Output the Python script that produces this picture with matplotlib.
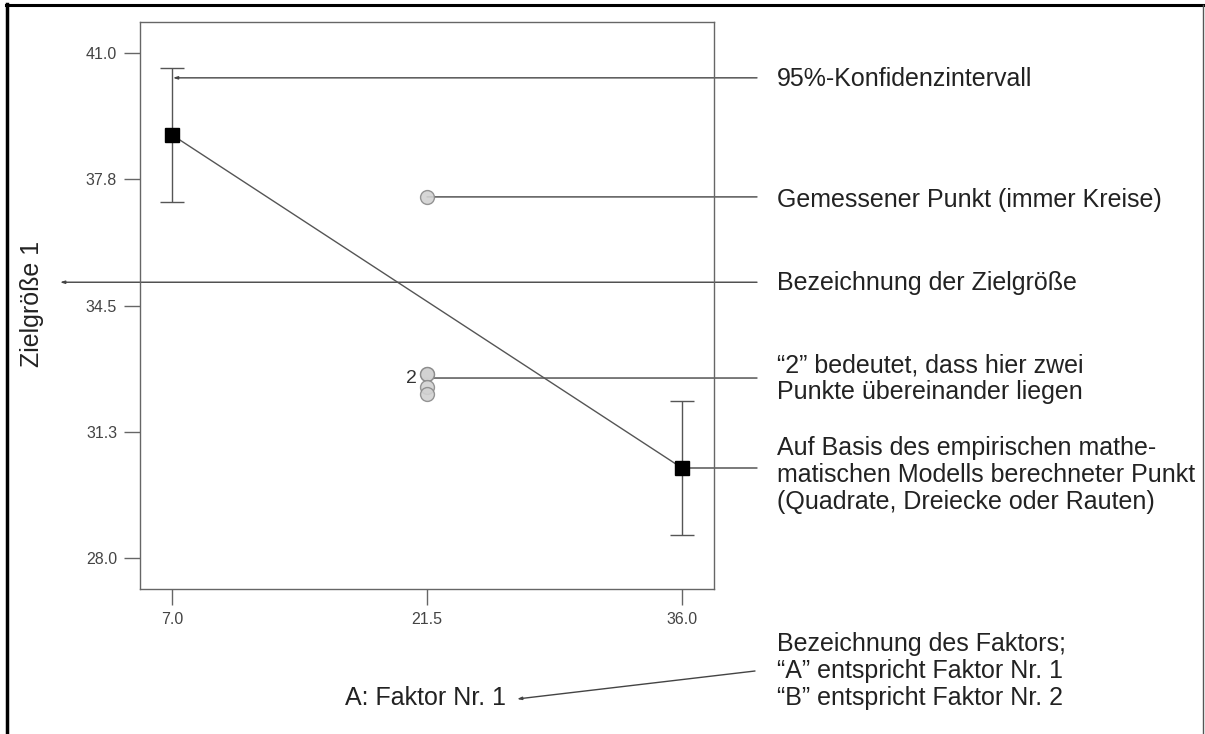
import matplotlib
matplotlib.use("Agg")
import matplotlib.pyplot as plt
import matplotlib.transforms as mtransforms
from matplotlib.lines import Line2D

plt.rcParams['font.family'] = ['Liberation Sans', 'DejaVu Sans']

# model points (squares) with 95% confidence interval
model_x = [7.0, 36.0]
model_y = [38.9, 30.31]
ci_half = [1.72, 1.72]

# measured points (circles) at the centre level
meas_x = [21.5, 21.5, 21.5, 21.5, 21.5]
meas_y = [37.30, 32.73, 32.73, 32.41, 32.21]
dup_y = 32.73          # two points lie on top of each other here
dup_label = "2"

x_ticks = [7.0, 21.5, 36.0]
x_ticklabels = ["7.0", "21.5", "36.0"]
y_ticks = [28.0, 31.25, 34.5, 37.75, 41.0]
y_ticklabels = ["28.0", "31.3", "34.5", "37.8", "41.0"]

# annotation anchors (data values they point at)
ci_point_y = 40.37
target_line_y = 35.1

W, H = 1205, 734
fig = plt.figure(figsize=(W / 100, H / 100), dpi=100)
fig.patch.set_facecolor('white')

def fx(px):
    return px / W

def fy(py):
    return 1 - py / H

ax = fig.add_axes([fx(140), fy(589), fx(714) - fx(140), fy(22) - fy(589)])
ax.set_xlim(5.18, 37.82)
ax.set_ylim(27.19, 41.81)

axis_col = '#666666'
for sp in ax.spines.values():
    sp.set_color(axis_col)
    sp.set_linewidth(1.0)

ax.set_xticks(x_ticks)
ax.set_xticklabels(x_ticklabels)
ax.set_yticks(y_ticks)
ax.set_yticklabels(y_ticklabels)
ax.tick_params(direction='out', length=11.5, width=1.0, color=axis_col,
               labelsize=11.5, labelcolor='#444444', pad=5)

# regression line and model points with CI
ax.plot(model_x, model_y, color='#555555', lw=1.0, zorder=2)
ax.errorbar(model_x, model_y, yerr=ci_half, fmt='none', ecolor='#555555',
            elinewidth=1.0, capsize=8.6, capthick=1.0, zorder=2)
ax.plot(model_x, model_y, 's', ms=10.5, color='black', zorder=4)

# measured points
ax.plot(meas_x, meas_y, 'o', ms=10, mfc='#d2d2d2', mec='#8a8a8a', mew=1.0,
        alpha=0.9, zorder=4)
ax.text(21.5 - 0.55, dup_y - 0.1, dup_label, ha='right', va='center',
        fontsize=14, color='#333333')

# annotation connectors: from a data point to a fixed figure x
blend = mtransforms.blended_transform_factory(fig.transFigure, ax.transData)
line_col = '#444444'
end_x = fx(757)
tiny_arrow = dict(arrowstyle='-|>,head_length=0.25,head_width=0.08',
                  lw=1.0, color=line_col, shrinkA=0, shrinkB=0)
plain = dict(arrowstyle='-', lw=1.0, color=line_col, shrinkA=0, shrinkB=0)

ax.annotate('', xy=(7.05, ci_point_y), xycoords='data',
            xytext=(end_x, ci_point_y), textcoords=blend,
            arrowprops=tiny_arrow, annotation_clip=False, zorder=1)
ax.annotate('', xy=(meas_x[0], meas_y[0]), xycoords='data',
            xytext=(end_x, meas_y[0]), textcoords=blend,
            arrowprops=plain, annotation_clip=False, zorder=1)
ax.annotate('', xy=(fx(60), target_line_y), xycoords=blend,
            xytext=(end_x, target_line_y), textcoords=blend,
            arrowprops=tiny_arrow, annotation_clip=False, zorder=1)
ax.annotate('', xy=(21.2, dup_y - 0.1), xycoords='data',
            xytext=(end_x, dup_y - 0.1), textcoords=blend,
            arrowprops=plain, annotation_clip=False, zorder=1)
ax.annotate('', xy=(model_x[1], model_y[1]), xycoords='data',
            xytext=(end_x, model_y[1]), textcoords=blend,
            arrowprops=plain, annotation_clip=False, zorder=1)

# explanatory texts on the right
txt = dict(fontsize=18, color='#222222', ha='left', va='center',
           linespacing=1.14)
tx = fx(777)
fig.text(tx, fy(79), "95%-Konfidenzintervall", **txt)
fig.text(tx, fy(200), "Gemessener Punkt (immer Kreise)", **txt)
fig.text(tx, fy(283), "Bezeichnung der Zielgröße", **txt)
fig.text(tx, fy(379), "\u201c2\u201d bedeutet, dass hier zwei\n"
         "Punkte übereinander liegen", **txt)
fig.text(tx, fy(475), "Auf Basis des empirischen mathe-\n"
         "matischen Modells berechneter Punkt\n"
         "(Quadrate, Dreiecke oder Rauten)", **txt)
fig.text(tx, fy(671), "Bezeichnung des Faktors;\n"
         "\u201cA\u201d entspricht Faktor Nr. 1\n"
         "\u201cB\u201d entspricht Faktor Nr. 2", **txt)

# axis labels
fig.text(fx(32), fy(304), "Zielgröße 1", rotation=90, fontsize=18,
         color='#222222', ha='center', va='center')
fig.text(fx(506), fy(698), "A: Faktor Nr. 1", fontsize=18, color='#222222',
         ha='right', va='center')
fig.add_artist(matplotlib.patches.FancyArrowPatch(
    (fx(755), fy(671)), (fx(517), fy(699)), transform=fig.transFigure,
    arrowstyle='-|>,head_length=0.25,head_width=0.08', lw=1.0,
    color=line_col, shrinkA=0, shrinkB=0, mutation_scale=10))

# page frame
fig.add_artist(Line2D([fx(7), fx(7)], [fy(4), 0], transform=fig.transFigure,
                      color='black', lw=2.5))
fig.add_artist(Line2D([fx(6), fx(1204)], [fy(5), fy(5)],
                      transform=fig.transFigure, color='black', lw=2.2))
fig.add_artist(Line2D([fx(1203), fx(1203)], [fy(5), 0],
                      transform=fig.transFigure, color='#555555', lw=1.0))

fig.savefig('out.png', dpi=100)
